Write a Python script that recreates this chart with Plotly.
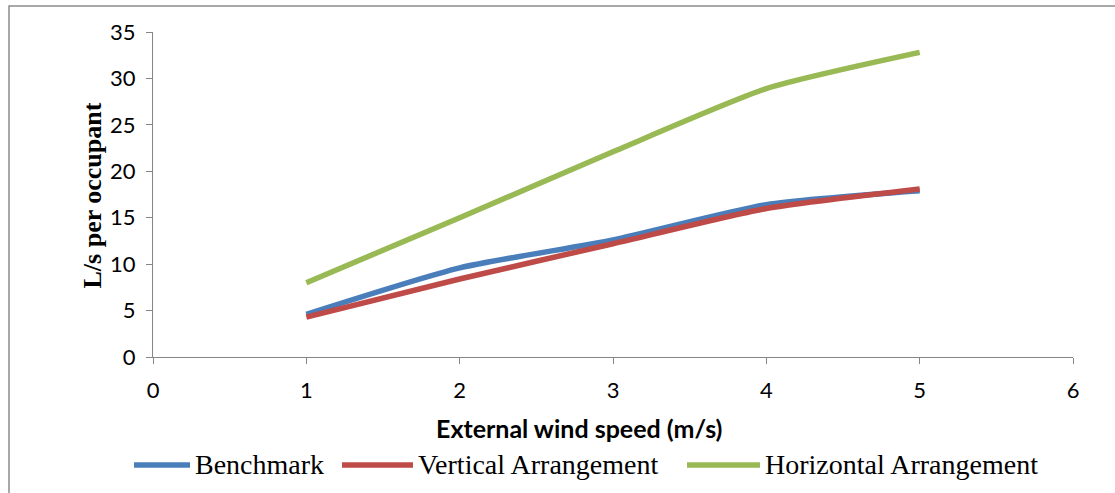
import plotly.graph_objects as go

wind_speed = [1, 2, 3, 4, 5]
benchmark = [4.6, 9.6, 12.6, 16.4, 17.9]
vertical = [4.3, 8.4, 12.2, 16.0, 18.1]
horizontal = [8.0, 15.0, 22.1, 28.9, 32.8]

series_names = ["Benchmark", "Vertical Arrangement", "Horizontal Arrangement"]
series_values = [benchmark, vertical, horizontal]
series_colors = ["#4A7EBB", "#BE4B48", "#98B954"]

fig = go.Figure()
for name, vals, col in zip(series_names, series_values, series_colors):
    fig.add_trace(go.Scatter(
        x=wind_speed, y=vals, name=name, mode="lines", showlegend=False,
        line=dict(color=col, width=5.5, shape="spline", smoothing=0.6),
    ))

W, H = 1115, 493
L, R, T, B = 153, 42, 32, 136
pw, ph = W - L - R, H - T - B

def px(x):
    return (x - L) / pw

def py(y):
    return (H - B - y) / ph

fig.add_shape(type="rect", xref="paper", yref="paper",
              x0=px(9), x1=px(1200), y0=py(600), y1=py(6),
              line=dict(color="#8C8C8C", width=1.5), fillcolor="rgba(0,0,0,0)", layer="below")

# custom legend (line sample + label)
legend_line_x = [(134, 190), (342, 413), (687, 760)]
legend_text_x = [193, 416, 763]
legend_y = 465
for name, col, (a, b), tx in zip(series_names, series_colors, legend_line_x, legend_text_x):
    fig.add_shape(type="line", xref="paper", yref="paper",
                  x0=px(a), x1=px(b), y0=py(legend_y), y1=py(legend_y),
                  line=dict(color=col, width=5.5))
    fig.add_annotation(text=name, xref="paper", yref="paper",
                       x=px(tx), y=py(legend_y), xanchor="left", yanchor="middle",
                       showarrow=False,
                       font=dict(size=28, family="Liberation Serif, DejaVu Serif, serif", color="black"))

fig.add_annotation(text="<b>External wind speed (m/s)</b>", xref="paper", yref="paper",
                   x=px(579), y=py(428), xanchor="center", yanchor="middle", showarrow=False,
                   font=dict(size=25, family="Lato, Open Sans, sans-serif", color="black"))
fig.add_annotation(text="<b>L/s per occupant</b>", xref="paper", yref="paper",
                   x=px(108), y=py(196), xanchor="right", yanchor="middle", showarrow=False,
                   textangle=-90,
                   font=dict(size=26, family="Liberation Serif, DejaVu Serif, serif", color="black"))

axis_col = "#868686"
tick_font = dict(size=22, family="Lato, Open Sans, sans-serif", color="black")
fig.update_layout(
    width=W, height=H,
    margin=dict(l=L, r=R, t=T, b=B, autoexpand=False),
    paper_bgcolor="white", plot_bgcolor="white",
    font=dict(family="Lato, Open Sans, sans-serif", color="black"),
    xaxis=dict(
        range=[0, 6], dtick=1, tick0=0,
        showgrid=False, zeroline=False,
        showline=True, linecolor=axis_col, linewidth=1,
        ticks="outside", ticklen=6, tickcolor=axis_col,
        tickfont=tick_font, ticklabelstandoff=8,
        automargin=False,
    ),
    yaxis=dict(
        range=[0, 35], dtick=5, tick0=0,
        showgrid=False, zeroline=False,
        showline=True, linecolor=axis_col, linewidth=1,
        ticks="outside", ticklen=6, tickcolor=axis_col,
        tickfont=tick_font, ticklabelstandoff=6,
        automargin=False,
    ),
    showlegend=False,
)

fig.write_html("out.html")
